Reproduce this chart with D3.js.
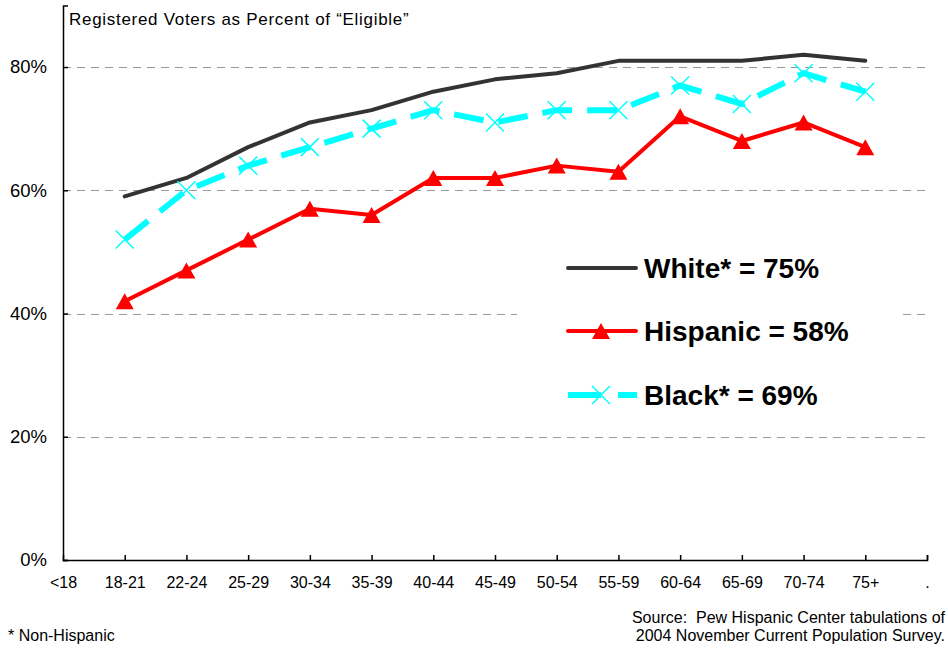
<!DOCTYPE html>
<html>
<head>
<meta charset="utf-8">
<script src="https://cdn.jsdelivr.net/npm/d3@7/dist/d3.min.js"></script>
<style>
  html, body { margin: 0; padding: 0; background: #fff; }
  svg { display: block; font-family: "Liberation Sans", Arial, sans-serif; }
</style>
</head>
<body>
<svg id="chart" width="948" height="650"></svg>
<script>
// Age groups along the x axis (end slots "<18" and "." hold no data)
const ageGroups = ["<18", "18-21", "22-24", "25-29", "30-34", "35-39", "40-44", "45-49",
                   "50-54", "55-59", "60-64", "65-69", "70-74", "75+", "."];
const dataGroups = ageGroups.slice(1, 14);

// Registered voters as percent of eligible, by age group
const whiteValues    = [59, 62, 67, 71, 73, 76, 78, 79, 81, 81, 81, 82, 81];
const hispanicValues = [42, 47, 52, 57, 56, 62, 62, 64, 63, 72, 68, 71, 67];
const blackValues    = [52, 60, 64, 67, 70, 73, 71, 73, 73, 77, 74, 79, 76];

const yTicks = [0, 20, 40, 60, 80];
const legendLabels = ["White* = 75%", "Hispanic = 58%", "Black* = 69%"];

const svg = d3.select("#chart");

const x = d3.scalePoint().domain(ageGroups).range([63, 927]).padding(0);
const y = d3.scaleLinear().domain([0, 90]).range([560, 5.4]);

// Dashed horizontal gridlines
svg.append("g")
  .selectAll("line")
  .data(yTicks.filter(d => d > 0))
  .join("line")
  .attr("x1", 63).attr("x2", 927)
  .attr("y1", d => Math.round(y(d)) + 0.5).attr("y2", d => Math.round(y(d)) + 0.5)
  .attr("stroke", "#9a9a9a").attr("stroke-width", 1)
  .attr("stroke-dasharray", "8,6");

// Legend backdrop (hides the gridline behind it)
svg.append("rect")
  .attr("x", 517).attr("y", 225).attr("width", 381).attr("height", 200)
  .attr("fill", "#fff");

// Axes
const yAxis = d3.axisLeft(y).tickValues(yTicks)
  .tickFormat(d => d + "%").tickSizeInner(-5).tickSizeOuter(-5).tickPadding(16);
const gy = svg.append("g").attr("transform", "translate(63,0)").call(yAxis);
gy.selectAll("text").attr("font-size", 18.5).attr("fill", "#000")
  .attr("font-family", "Liberation Sans, Arial, sans-serif");
gy.selectAll("path, line").attr("stroke", "#000").attr("stroke-width", 1.5);

const xAxis = d3.axisBottom(x).tickSizeInner(-5).tickSizeOuter(-5).tickPadding(17);
const gx = svg.append("g").attr("transform", "translate(0,560)").call(xAxis);
gx.selectAll("text").attr("font-size", 16).attr("fill", "#000")
  .attr("font-family", "Liberation Sans, Arial, sans-serif");
gx.selectAll("path, line").attr("stroke", "#000").attr("stroke-width", 1.5);
gx.selectAll(".tick").filter(d => d === "<18").select("line").remove();

// Series
const line = d3.line().x((d, i) => x(dataGroups[i])).y(d => y(d));

svg.append("path").datum(whiteValues)
  .attr("d", line).attr("fill", "none")
  .attr("stroke", "#333333").attr("stroke-width", 4)
  .attr("stroke-linejoin", "round").attr("stroke-linecap", "round");

svg.append("path").datum(hispanicValues)
  .attr("d", line).attr("fill", "none")
  .attr("stroke", "#ff0000").attr("stroke-width", 4)
  .attr("stroke-linejoin", "round");

const triangle = "M0,-8L9,8L-9,8Z";
svg.append("g").selectAll("path")
  .data(hispanicValues).join("path")
  .attr("d", triangle)
  .attr("transform", (d, i) => `translate(${x(dataGroups[i])},${y(d)})`)
  .attr("fill", "#ff0000");

svg.append("path").datum(blackValues)
  .attr("d", line).attr("fill", "none")
  .attr("stroke", "#00ffff").attr("stroke-width", 6)
  .attr("stroke-dasharray", "30,15");

const cross = "M-9,-9L9,9M-9,9L9,-9";
svg.append("g").selectAll("path")
  .data(blackValues).join("path")
  .attr("d", cross)
  .attr("transform", (d, i) => `translate(${x(dataGroups[i])},${y(d)})`)
  .attr("fill", "none").attr("stroke", "#00ffff").attr("stroke-width", 1.5);

// Legend
const legendY = [268, 331, 395];
const lg = svg.append("g");
lg.append("line").attr("x1", 568).attr("x2", 636).attr("y1", legendY[0]).attr("y2", legendY[0])
  .attr("stroke", "#333333").attr("stroke-width", 4).attr("stroke-linecap", "round");
lg.append("line").attr("x1", 568).attr("x2", 636).attr("y1", legendY[1]).attr("y2", legendY[1])
  .attr("stroke", "#ff0000").attr("stroke-width", 4).attr("stroke-linecap", "round");
lg.append("path").attr("d", triangle)
  .attr("transform", `translate(601,${legendY[1]})`).attr("fill", "#ff0000");
lg.append("line").attr("x1", 568).attr("x2", 637).attr("y1", legendY[2]).attr("y2", legendY[2])
  .attr("stroke", "#00ffff").attr("stroke-width", 6).attr("stroke-dasharray", "33,17");
lg.append("path").attr("d", cross)
  .attr("transform", `translate(601,${legendY[2]})`)
  .attr("fill", "none").attr("stroke", "#00ffff").attr("stroke-width", 1.5);
lg.selectAll("text.lab").data(legendLabels).join("text")
  .attr("class", "lab")
  .attr("x", 644).attr("y", (d, i) => legendY[i] + 10)
  .attr("font-size", 28).attr("font-weight", "bold").attr("fill", "#000")
  .text(d => d);

// Title and notes
svg.append("text").attr("x", 69).attr("y", 25).attr("font-size", 17)
  .attr("letter-spacing", 0.7).attr("fill", "#000")
  .text("Registered Voters as Percent of \u201CEligible\u201D");
svg.append("text").attr("x", 8).attr("y", 641).attr("font-size", 16).attr("fill", "#000")
  .text("* Non-Hispanic");
svg.append("text").attr("x", 945).attr("y", 623).attr("font-size", 16).attr("fill", "#000")
  .attr("text-anchor", "end").attr("xml:space", "preserve")
  .text("Source:  Pew Hispanic Center tabulations of");
svg.append("text").attr("x", 945).attr("y", 641).attr("font-size", 16).attr("fill", "#000")
  .attr("text-anchor", "end")
  .text("2004 November Current Population Survey.");
</script>
</body>
</html>
